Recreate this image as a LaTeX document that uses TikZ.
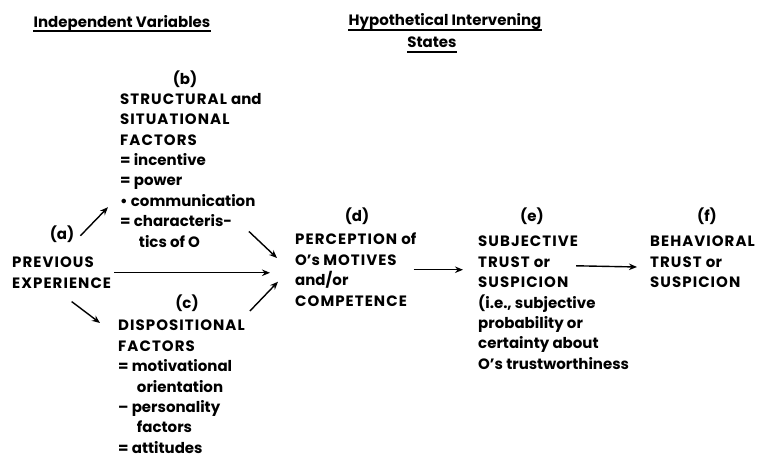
\documentclass[tikz,border=0pt]{standalone}
\usepackage{fontspec}
\setmainfont{Poppins}
\usetikzlibrary{arrows.meta}
\newcommand{\bodysize}{\fontsize{15bp}{20.4bp}\selectfont\bfseries}
\newcommand{\indnt}{\hspace*{1.25em}}
\newcommand{\wcaps}[1]{{\addfontfeature{LetterSpace=7}#1}}
\tikzset{
  txt/.style={anchor=north west, align=left, inner sep=0pt, font=\bodysize},
  lab/.style={anchor=base, inner sep=0pt, font=\bodysize},
  arr/.style={-{Stealth[length=8bp,width=6.5bp]}, line width=1.4bp},
  ulin/.style={line width=1.6bp}
}

\begin{document}
\begin{tikzpicture}[x=1bp, y=-1bp]
    \useasboundingbox (0,0) rectangle (759,459);
    % headings
    \node[lab] (indep) at (122,28) {Independent Variables};
    \node[lab] (hyp) at (445,26) {Hypothetical Intervening};
    \node[lab] (states) at (432,48) {States};
    \draw[ulin] ([yshift=-3bp]indep.base west) -- ([yshift=-3bp]indep.base east);
    \draw[ulin] ([yshift=-4bp]hyp.base west) -- ([yshift=-4bp]hyp.base east);
    \draw[ulin] ([yshift=-4bp]states.base west) -- ([yshift=-4bp]states.base east);
    % letters
    \node[lab] (alab) at (62,240) {(a)};
    \node[lab] (blab) at (185,85) {(b)};
    \node[lab] (clab) at (187,309) {(c)};
    \node[lab] (dlab) at (357,222) {(d)};
    \node[lab] (elab) at (532,222) {(e)};
    \node[lab] (flab) at (707,222) {(f)};
    % boxes of text
    \node[txt] (prev) at (12,257) {\wcaps{PREVIOUS}\\\wcaps{EXPERIENCE}};
    \node[txt] (struct) at (120,93) {\wcaps{STRUCTURAL }and\\\wcaps{SITUATIONAL}\\\wcaps{FACTORS}\\= incentive\\= power\\• communication\\= characteris-\\\indnt tics of O};
    \node[txt] (disp) at (118,320) {\wcaps{DISPOSITIONAL}\\\wcaps{FACTORS}\\= motivational\\\indnt orientation\\– personality\\\indnt factors\\= attitudes};
    \node[txt] (perc) at (295,233) {\wcaps{PERCEPTION }of\\O’s \wcaps{MOTIVES}\\and/or\\\wcaps{COMPETENCE}};
    \node[txt] (subj) at (478,236) {\wcaps{SUBJECTIVE}\\\wcaps{TRUST }or\\\wcaps{SUSPICION}\\(i.e., subjective\\probability or\\certainty about\\O’s trustworthiness};
    \node[txt] (behav) at (650,236) {\wcaps{BEHAVIORAL}\\\wcaps{TRUST }or\\\wcaps{SUSPICION}};
    % arrows
    \draw[arr] ([shift={(6,1)}]alab.east) -- ([shift={(-12,37)}]struct.west);
    \draw[arr] ([xshift=3bp]prev.east) -- ([xshift=-25bp]prev.east -| perc.west);
    \draw[arr] ([shift={(10,13)}]prev.south) -- ([shift={(-18,3)}]disp.north west);
    \draw[arr] ([shift={(-13,-16)}]struct.south east) -- ([shift={(-18,25)}]perc.north west);
    \draw[arr] ([shift={(5,-9)}]disp.north east) -- ([shift={(-17,12)}]perc.west);
    \draw[arr] ([xshift=-3bp]perc.east) -- ([xshift=-15bp]perc.east -| subj.west);
    \draw[arr] ([shift={(-53,-37)}]subj.east) -- ([shift={(-13,5)}]behav.west);
\end{tikzpicture}
\end{document}
